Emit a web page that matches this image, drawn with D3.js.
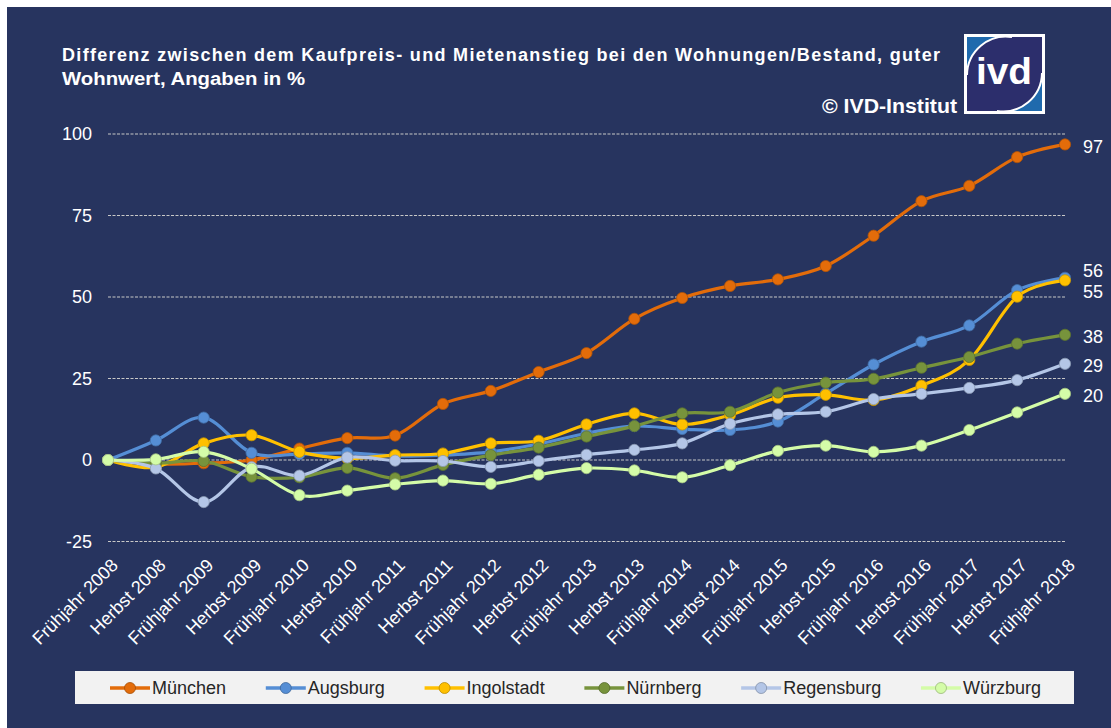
<!DOCTYPE html>
<html>
<head>
<meta charset="utf-8">
<script src="https://cdn.jsdelivr.net/npm/d3@7"></script>
<style>
  html, body { margin: 0; padding: 0; background: #ffffff; }
  svg { display: block; }
  text { font-family: "Liberation Sans", Arial, sans-serif; }
</style>
</head>
<body>
<svg id="chart" width="1111" height="728"></svg>
<script>
// ---------- DATA ----------
const categories = [
  "Frühjahr 2008","Herbst 2008","Frühjahr 2009","Herbst 2009","Frühjahr 2010","Herbst 2010",
  "Frühjahr 2011","Herbst 2011","Frühjahr 2012","Herbst 2012","Frühjahr 2013","Herbst 2013",
  "Frühjahr 2014","Herbst 2014","Frühjahr 2015","Herbst 2015","Frühjahr 2016","Herbst 2016",
  "Frühjahr 2017","Herbst 2017","Frühjahr 2018"
];
const seriesNames = ["München","Augsburg","Ingolstadt","Nürnberg","Regensburg","Würzburg"];
const muenchen   = [0,-1.2,-1,0,3.5,6.7,7.5,17.2,21.2,27,32.8,43.3,49.7,53.4,55.4,59.5,68.8,79.4,84.1,92.9,96.8];
const augsburg   = [0,6,13,2.2,1.8,2.2,1.2,1.5,2.5,4.9,8.2,10.4,9.5,9.2,11.8,20.4,29.3,36.3,41.3,52.1,55.9];
const ingolstadt = [0,-2.2,5.1,7.6,2.5,0.5,1.5,2,5.1,5.9,10.9,14.3,10.9,13.8,19.1,20,18.4,22.8,30.7,50.1,55.1];
const nuernberg  = [0,-1,-0.3,-5.1,-5.3,-2.4,-5.6,-1.5,1.5,3.8,7.2,10.4,14.3,14.8,20.7,23.7,24.9,28.3,31.6,35.7,38.4];
const regensburg = [0,-2.6,-12.9,-2.2,-4.8,0.8,-0.2,-0.3,-2.1,-0.3,1.6,3.1,5.1,11.1,14,14.8,18.7,20.3,22.1,24.5,29.5];
const wuerzburg  = [0,0.2,2.5,-2.7,-10.8,-9.4,-7.5,-6.3,-7.3,-4.5,-2.5,-3.2,-5.3,-1.6,2.8,4.4,2.5,4.4,9.2,14.6,20.3];
const seriesValues = [muenchen, augsburg, ingolstadt, nuernberg, regensburg, wuerzburg];
const seriesColors = ["#e36c0a","#558ed5","#ffc000","#77933c","#b4c6e7","#d4fca8"];
const endLabels = ["97","56","55","38","29","20"];
const yTicks = [-25, 0, 25, 50, 75, 100];
const titleLines = ["Differenz zwischen dem Kaufpreis- und Mietenanstieg bei den Wohnungen/Bestand, guter",
                    "Wohnwert, Angaben in %"];
const copyright = "© IVD-Institut";

// ---------- LAYOUT ----------
const W = 1111, H = 728;
const svg = d3.select("#chart");
const bg = "#27345f";

svg.append("rect").attr("x", 7).attr("y", 7).attr("width", W - 7).attr("height", H - 7).attr("fill", bg);

const x = d3.scalePoint().domain(categories).range([108, 1065]);
const y = d3.scaleLinear().domain([-25, 100]).range([541.5, 134]);

// gridlines
svg.append("g").selectAll("line").data(yTicks).join("line")
  .attr("x1", 108).attr("x2", 1065)
  .attr("y1", d => y(d)).attr("y2", d => y(d))
  .attr("stroke", "#c8c8c8").attr("stroke-width", 1)
  .attr("stroke-dasharray", "3,1.5");

// y axis labels
const yAxis = d3.axisLeft(y).tickValues(yTicks).tickFormat(d => String(d)).tickSize(0).tickPadding(0);
const gy = svg.append("g").attr("transform", "translate(92,0)").call(yAxis);
gy.select(".domain").remove();
gy.selectAll("text").attr("fill", "#ffffff").attr("font-size", 18)
  .attr("font-family", "'Liberation Sans', Arial, sans-serif");

// x axis labels
const xAxis = d3.axisBottom(x).tickSize(0).tickPadding(0);
const gx = svg.append("g").attr("transform", "translate(0,562)").call(xAxis);
gx.select(".domain").remove();
gx.selectAll("text")
  .attr("fill", "#ffffff").attr("font-size", 18)
  .attr("font-family", "'Liberation Sans', Arial, sans-serif")
  .attr("text-anchor", "end")
  .attr("y", 0).attr("dy", "0.35em")
  .attr("transform", "translate(6,0) rotate(-45)");

// lines
const line = d3.line()
  .x((d, i) => x(categories[i]))
  .y(d => y(d))
  .curve(d3.curveCardinal.tension(0));

seriesValues.forEach((vals, si) => {
  const c = seriesColors[si];
  const g = svg.append("g");
  g.append("path").attr("d", line(vals))
    .attr("fill", "none").attr("stroke", c).attr("stroke-width", 3.2)
    .attr("stroke-linejoin", "round").attr("stroke-linecap", "round");
  g.selectAll("circle").data(vals).join("circle")
    .attr("cx", (d, i) => x(categories[i])).attr("cy", d => y(d))
    .attr("r", 5.6).attr("fill", c)
    .attr("stroke", d3.color(c).darker(0.7)).attr("stroke-width", 0.8);
});

// end labels with overlap resolution
const lastX = x(categories[categories.length - 1]);
let lab = seriesValues.map((v, i) => ({ t: endLabels[i], y: y(v[v.length - 1]) + 2 }));
lab.sort((a, b) => a.y - b.y);
const gap = 21;
for (let k = 0; k < 5; k++) {
  for (let i = 1; i < lab.length; i++) {
    const d = lab[i].y - lab[i - 1].y;
    if (d < gap) {
      const s = (gap - d) / 2;
      lab[i].y += s; lab[i - 1].y -= s;
    }
  }
}
svg.append("g").selectAll("text").data(lab).join("text")
  .attr("x", lastX + 18).attr("y", d => d.y).attr("dy", "0.35em")
  .attr("fill", "#ffffff").attr("font-size", 18).text(d => d.t);

// title
svg.append("text").attr("x", 62).attr("y", 61).attr("fill", "#ffffff")
  .attr("font-size", 18).attr("font-weight", "bold")
  .attr("textLength", 878).attr("lengthAdjust", "spacing").text(titleLines[0]);
svg.append("text").attr("x", 62).attr("y", 85).attr("fill", "#ffffff")
  .attr("font-size", 18).attr("font-weight", "bold")
  .attr("textLength", 243).attr("lengthAdjust", "spacingAndGlyphs").text(titleLines[1]);
svg.append("text").attr("x", 957).attr("y", 113).attr("fill", "#ffffff")
  .attr("text-anchor", "end").attr("font-size", 20).attr("font-weight", "bold")
  .attr("textLength", 135).attr("lengthAdjust", "spacingAndGlyphs").text(copyright);

// logo
const logo = svg.append("g");
logo.append("rect").attr("x", 964).attr("y", 34).attr("width", 81).attr("height", 80).attr("fill", "#ffffff");
logo.append("rect").attr("x", 967).attr("y", 37).attr("width", 75).attr("height", 74).attr("fill", "#2c2e6c");
const tl = "M967,37 L1012,37 A39,39 0 0 0 967,75 Z";
const br = "M1042,111 L997,111 A39,39 0 0 0 1042,73 Z";
logo.append("path").attr("d", tl).attr("fill", "#1f6aad");
logo.append("path").attr("d", br).attr("fill", "#1f6aad");
logo.append("path").attr("d", "M1012,37 A39,39 0 0 0 967,75")
  .attr("fill", "none").attr("stroke", "#ffffff").attr("stroke-width", 2);
logo.append("path").attr("d", "M997,111 A39,39 0 0 0 1042,73")
  .attr("fill", "none").attr("stroke", "#ffffff").attr("stroke-width", 2);
logo.append("text").attr("x", 1004).attr("y", 84).attr("text-anchor", "middle")
  .attr("fill", "#ffffff").attr("font-size", 36).attr("font-weight", "bold")
  .attr("font-family", "'DejaVu Sans', sans-serif")
  .attr("textLength", 56).attr("lengthAdjust", "spacingAndGlyphs").text("ivd");

// legend
svg.append("rect").attr("x", 75).attr("y", 671).attr("width", 999).attr("height", 33).attr("fill", "#f2f2f2");
const lg = svg.append("g");
const items = seriesNames.map((n, i) => {
  const t = lg.append("text").attr("font-size", 18).attr("fill", "#262626").text(n);
  return { t, w: t.node().getComputedTextLength(), i };
});
const sym = 42;
const total = d3.sum(items, d => d.w + sym);
const lStart = 110, lEnd = 1041;
const lgap = (lEnd - lStart - total) / (items.length - 1);
let cx = lStart;
const ly = 688;
items.forEach(d => {
  const c = seriesColors[d.i];
  lg.append("line").attr("x1", cx).attr("x2", cx + 40).attr("y1", ly).attr("y2", ly)
    .attr("stroke", c).attr("stroke-width", 3.5);
  lg.append("circle").attr("cx", cx + 20).attr("cy", ly).attr("r", 5.5)
    .attr("fill", c).attr("stroke", d3.color(c).darker(0.9)).attr("stroke-width", 0.8);
  d.t.attr("x", cx + sym).attr("y", ly).attr("dy", "0.35em");
  cx += sym + d.w + lgap;
});
</script>
</body>
</html>
